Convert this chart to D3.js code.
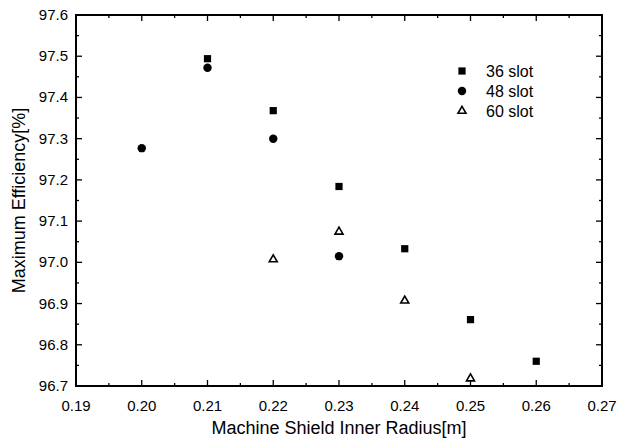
<!DOCTYPE html>
<html>
<head>
<meta charset="utf-8">
<script src="https://cdn.jsdelivr.net/npm/d3@7"></script>
<style>
  body { margin: 0; background: #fff; }
  text { font-family: "Liberation Sans", Arial, sans-serif; fill: #000; }
</style>
</head>
<body>
<div id="chart"></div>
<script>
// data
const radius36 = [0.21, 0.22, 0.23, 0.24, 0.25, 0.26];
const eff36 = [97.494, 97.368, 97.184, 97.033, 96.861, 96.760];
const radius48 = [0.20, 0.21, 0.22, 0.23];
const eff48 = [97.277, 97.472, 97.300, 97.015];
const radius60 = [0.22, 0.23, 0.24, 0.25];
const eff60 = [97.007, 97.074, 96.907, 96.718];
const xTicks = [0.19, 0.20, 0.21, 0.22, 0.23, 0.24, 0.25, 0.26, 0.27];
const yTicks = [96.7, 96.8, 96.9, 97.0, 97.1, 97.2, 97.3, 97.4, 97.5, 97.6];
const seriesNames = ['36 slot', '48 slot', '60 slot'];

const width = 617, height = 440;
const margin = { left: 76, right: 15, top: 15, bottom: 54 };

const svg = d3.select('#chart')
  .append('svg')
  .attr('width', width)
  .attr('height', height);

const x = d3.scaleLinear().domain([0.19, 0.27]).range([margin.left, width - margin.right]);
const y = d3.scaleLinear().domain([96.7, 97.6]).range([height - margin.bottom, margin.top]);

const x0 = x.range()[0], x1 = x.range()[1];
const y0 = y.range()[0], y1 = y.range()[1];

// minor tick positions (half steps)
const xMinor = d3.range(0, xTicks.length - 1).map(i => (xTicks[i] + xTicks[i + 1]) / 2);
const yMinor = d3.range(0, yTicks.length - 1).map(i => (yTicks[i] + yTicks[i + 1]) / 2);

const g = svg.append('g');

// ticks on all four sides, pointing inward
function tickLines(vals, len) {
  vals.forEach(v => {
    g.append('line').attr('x1', x(v)).attr('x2', x(v)).attr('y1', y0).attr('y2', y0 - len)
      .attr('stroke', '#000').attr('stroke-width', 1.3);
    g.append('line').attr('x1', x(v)).attr('x2', x(v)).attr('y1', y1).attr('y2', y1 + len)
      .attr('stroke', '#000').attr('stroke-width', 1.3);
  });
}
function tickLinesY(vals, len) {
  vals.forEach(v => {
    g.append('line').attr('x1', x0).attr('x2', x0 + len).attr('y1', y(v)).attr('y2', y(v))
      .attr('stroke', '#000').attr('stroke-width', 1.3);
    g.append('line').attr('x1', x1).attr('x2', x1 - len).attr('y1', y(v)).attr('y2', y(v))
      .attr('stroke', '#000').attr('stroke-width', 1.3);
  });
}
tickLines(xTicks, 6);
tickLines(xMinor, 3);
tickLinesY(yTicks, 6);
tickLinesY(yMinor, 3);

// frame
g.append('rect')
  .attr('x', x0).attr('y', y1)
  .attr('width', x1 - x0).attr('height', y0 - y1)
  .attr('fill', 'none').attr('stroke', '#000').attr('stroke-width', 2);

// tick labels
g.selectAll('text.xl')
  .data(xTicks)
  .join('text')
  .attr('class', 'xl')
  .attr('x', d => x(d))
  .attr('y', y0 + 25)
  .attr('text-anchor', 'middle')
  .style('font-size', '15px')
  .text(d => d3.format('.2f')(d));

g.selectAll('text.yl')
  .data(yTicks)
  .join('text')
  .attr('class', 'yl')
  .attr('x', x0 - 8)
  .attr('y', d => y(d) + 5)
  .attr('text-anchor', 'end')
  .style('font-size', '15px')
  .text(d => d3.format('.1f')(d));

// axis titles
svg.append('text')
  .attr('x', (x0 + x1) / 2)
  .attr('y', 434)
  .attr('text-anchor', 'middle')
  .style('font-size', '18px')
  .text('Machine Shield Inner Radius[m]');

svg.append('text')
  .attr('transform', `translate(25, ${(y0 + y1) / 2}) rotate(-90)`)
  .attr('text-anchor', 'middle')
  .style('font-size', '18px')
  .text('Maximum Efficiency[%]');

// markers
const pts36 = radius36.map((r, i) => ({ x: r, y: eff36[i] }));
const pts48 = radius48.map((r, i) => ({ x: r, y: eff48[i] }));
const pts60 = radius60.map((r, i) => ({ x: r, y: eff60[i] }));

const sq = d3.symbol().type(d3.symbolSquare).size(52);
const ci = d3.symbol().type(d3.symbolCircle).size(56);
const tr = d3.symbol().type(d3.symbolTriangle).size(28);

function drawMarks(data, sym, filled) {
  g.append('g').selectAll('path')
    .data(data)
    .join('path')
    .attr('d', sym)
    .attr('transform', d => `translate(${x(d.x)},${y(d.y)})`)
    .attr('fill', filled ? '#000' : '#fff')
    .attr('stroke', '#000')
    .attr('stroke-width', filled ? 0 : 1.6);
}
drawMarks(pts36, sq, true);
drawMarks(pts48, ci, true);
drawMarks(pts60, tr, false);

// legend
const legend = svg.append('g');
const legendSyms = [sq, ci, tr];
seriesNames.forEach((name, i) => {
  const ly = 71 + i * 20;
  legend.append('path')
    .attr('d', legendSyms[i])
    .attr('transform', `translate(462,${ly})`)
    .attr('fill', i < 2 ? '#000' : '#fff')
    .attr('stroke', '#000')
    .attr('stroke-width', i < 2 ? 0 : 1.6);
  legend.append('text')
    .attr('x', 486)
    .attr('y', ly + 6)
    .style('font-size', '16px')
    .text(name);
});
</script>
</body>
</html>
